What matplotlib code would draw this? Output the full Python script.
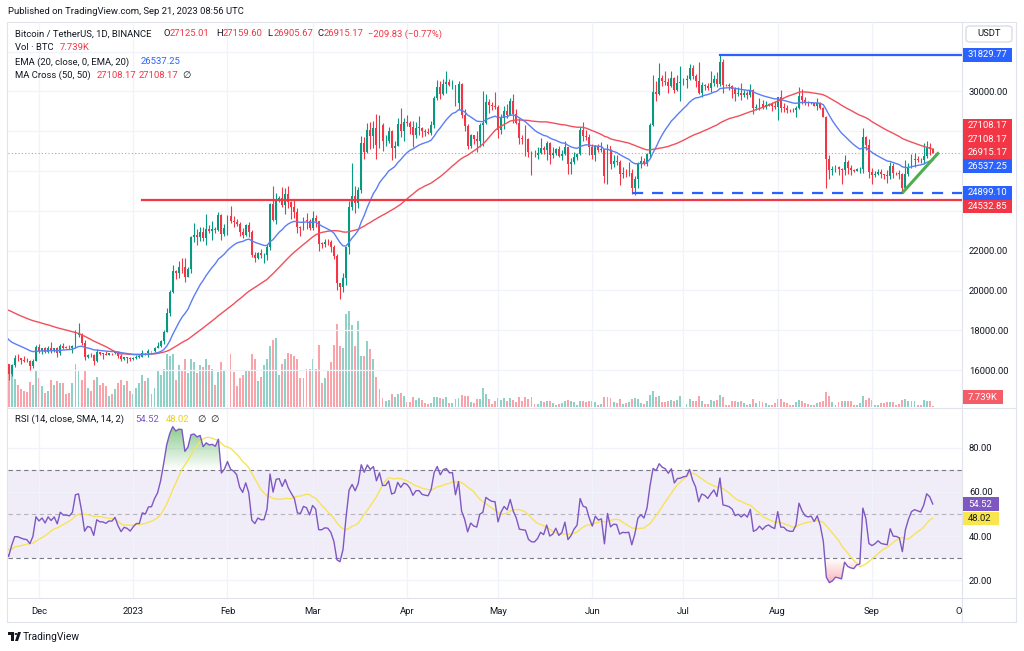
import numpy as np
import pandas as pd
import matplotlib
matplotlib.use("Agg")
import matplotlib.pyplot as plt
import matplotlib.dates as mdates
import matplotlib.transforms as mtransforms
from matplotlib.patches import Rectangle, FancyBboxPatch, Polygon, Circle
from matplotlib.path import Path
from matplotlib.colors import to_rgb

plt.rcParams['font.family'] = ['Roboto', 'DejaVu Sans']

# ---------------- data (BTC/USDT daily, Binance) ----------------
# closes before the visible window, only used to warm up the indicators
warmup_close = [19312, 19044, 19623, 20336, 20160, 19955, 19531, 19417, 19439, 19131,
                19060, 19155, 19375, 19176, 19069, 19262, 19549, 19327, 19123, 19041,
                19164, 19204, 19571, 19330, 20080, 20771, 20295, 20595, 20818, 20635,
                20495, 20485, 20159, 20209, 21148, 21300, 20905, 20591, 18547, 15922,
                17601, 17070, 16812, 16330, 16620, 16900, 16663, 16692, 16700, 16630, 16280]

nov_close = [15781, 16227, 16603, 16598, 16522, 16459, 16428, 16213, 16443, 17164]
nov_high = [16290, 16300, 16770, 16812, 16603, 16689, 16600, 16483, 16529, 17250]
nov_low = [15476, 15703, 16169, 16460, 16310, 16398, 16400, 16001, 16110, 16430]
nov_vol = [250, 219, 175, 140, 113, 100, 94, 156, 138, 230]

dec_close = [16980, 17095, 16888, 17107, 16967, 17089, 16837, 17225, 17129, 17128,
             17104, 17206, 17776, 17806, 17356, 16632, 16776, 16738, 16439, 16896,
             16825, 16821, 16778, 16836, 16832, 16919, 16706, 16547, 16633, 16607, 16542]
dec_high = [17320, 17105, 17158, 17200, 17425, 17107, 17140, 17300, 17360, 17227,
            17270, 17242, 18000, 18387, 17846, 17530, 16800, 16863, 16816, 17061,
            16920, 16868, 16959, 16869, 16865, 16939, 16972, 16785, 16664, 16644, 16644]
dec_low = [16855, 16788, 16865, 16878, 16867, 16907, 16678, 16734, 17060, 17090,
           17071, 16873, 17086, 17660, 17275, 16527, 16584, 16663, 16256, 16398,
           16740, 16559, 16750, 16774, 16735, 16786, 16594, 16465, 16508, 16333, 16470]
dec_vol = [180, 130, 90, 100, 170, 140, 160, 150, 150, 80,
           90, 150, 270, 230, 170, 230, 120, 100, 170, 190,
           140, 150, 130, 70, 80, 110, 150, 170, 140, 160, 100]

jan_close = [16617, 16672, 16674, 16851, 16831, 16951, 16955, 17092, 17196, 17446,
             17934, 18869, 19909, 20977, 20880, 21170, 21162, 20688, 21087, 22666,
             22783, 22707, 22917, 22632, 23061, 23009, 23075, 23031, 23775, 22840, 23125]
jan_high = [16630, 16760, 16785, 16990, 16878, 17042, 16970, 17176, 17398, 17490,
            18000, 19117, 19998, 21259, 21050, 21470, 21650, 21650, 21188, 22755,
            23371, 23078, 23165, 23180, 23816, 23282, 23500, 23165, 23955, 23819, 23320]
jan_low = [16500, 16550, 16605, 16657, 16753, 16677, 16908, 16911, 17094, 17143,
           17315, 17892, 18713, 19889, 20552, 20611, 20852, 20407, 20659, 20862,
           22422, 22293, 22500, 22464, 22300, 22890, 22534, 22880, 22981, 22546, 22717]
jan_vol = [80, 120, 150, 200, 160, 180, 80, 120, 230, 200,
           240, 330, 320, 330, 170, 260, 230, 300, 210, 300,
           280, 210, 260, 250, 300, 260, 240, 140, 220, 280, 230]

feb_close = [23732, 23489, 23431, 23326, 22933, 22763, 23264, 22939, 21797, 21625,
             21862, 21783, 21785, 22200, 24327, 23517, 24570, 24631, 24275, 24838,
             24451, 24189, 23947, 23199, 23158, 23555, 23492, 23141]
feb_high = [23800, 24255, 23715, 23587, 23433, 23158, 23350, 23452, 23012, 21938,
            21906, 22090, 21888, 22320, 24380, 25250, 24879, 24722, 25192, 25121,
            25250, 24475, 24600, 24143, 23225, 23689, 23880, 23600]
feb_low = [22760, 23363, 23204, 23253, 22750, 22628, 22745, 22665, 21688, 21451,
           21600, 21630, 21352, 21532, 22047, 23505, 23339, 24430, 24200, 23841,
           24150, 23574, 23623, 22862, 22722, 23059, 23106, 23020]
feb_vol = [300, 330, 220, 130, 180, 200, 230, 230, 330, 300,
           160, 190, 260, 300, 380, 420, 430, 200, 270, 300,
           340, 330, 320, 300, 180, 180, 240, 240]

mar_close = [23629, 23466, 22355, 22346, 22430, 22410, 22197, 21705, 20363, 20188,
             20633, 22163, 24198, 24746, 24375, 25055, 27423, 26965, 28038, 27767,
             28175, 27307, 28333, 27493, 27494, 27994, 27139, 27268, 28348, 28033, 28478]
mar_high = [24000, 23780, 22420, 22410, 22606, 22602, 22552, 22268, 21818, 20367,
            20850, 22200, 24500, 26386, 25250, 25200, 27756, 27725, 28390, 28473,
            28527, 28868, 28800, 28400, 27800, 28200, 28043, 27500, 28650, 29184, 28660]
mar_low = [23020, 23195, 21971, 22115, 22200, 22258, 21927, 21580, 20042, 19549,
           19900, 20275, 21813, 24044, 23900, 24123, 24890, 26578, 26888, 27125,
           27156, 26600, 27166, 27000, 27250, 27430, 26550, 26631, 27250, 27700, 27525]
mar_vol = [300, 240, 390, 150, 180, 230, 280, 390, 520, 380,
           370, 580, 600, 510, 380, 540, 320, 320, 410, 360,
           300, 190, 110, 55, 40, 45, 80, 65, 80, 85, 70]

apr_close = [28411, 28199, 27790, 28168, 28175, 27991, 27948, 27924, 28334, 29653,
             30235, 29884, 30373, 30467, 30305, 30314, 29431, 30380, 28797, 28243,
             27262, 27817, 27592, 27514, 28300, 28415, 29473, 29340, 29248, 29233]
apr_high = [28800, 28530, 28500, 28444, 28775, 28190, 28100, 28185, 28530, 29770,
            30550, 30500, 30620, 31000, 30600, 30550, 30320, 30500, 30411, 29100,
            28371, 27877, 27820, 28000, 28400, 30036, 29890, 29600, 29467, 29960]
apr_low = [28240, 27870, 27200, 27675, 27800, 27711, 27770, 27871, 27800, 28170,
           29590, 29600, 29841, 29900, 30250, 30121, 29267, 29100, 28668, 28010,
           27125, 27166, 27350, 26942, 27200, 27235, 28380, 28891, 29088, 29100]
apr_vol = [30, 30, 65, 45, 55, 45, 25, 18, 25, 60,
           60, 55, 50, 65, 25, 25, 50, 55, 75, 70,
           70, 30, 25, 50, 50, 120, 80, 50, 20, 35]

may_close = [28068, 28669, 29026, 28838, 29506, 28848, 28430, 27669, 27628, 27599,
             26969, 26792, 26784, 26917, 27162, 27033, 27405, 26821, 26890, 27112,
             26747, 26849, 27225, 26334, 26476, 26719, 26868, 28085, 27745, 27702, 27219]
may_high = [29337, 28880, 29266, 29375, 29677, 29850, 29138, 28664, 27818, 28336,
            27650, 27000, 27030, 27200, 27665, 27279, 27485, 27476, 27183, 27155,
            27280, 27050, 27495, 27200, 26633, 26932, 26900, 28200, 28447, 28045, 27834]
may_low = [27680, 27872, 28130, 28670, 28800, 28388, 28353, 27335, 27360, 26777,
           26700, 25811, 26681, 26600, 26852, 26867, 26560, 26360, 26650, 26816,
           26700, 26533, 26800, 25871, 25868, 26333, 26555, 26800, 27524, 27566, 26818]
may_vol = [55, 45, 55, 40, 55, 45, 30, 60, 35, 60,
           50, 60, 20, 20, 35, 30, 40, 40, 25, 15,
           18, 25, 35, 45, 35, 30, 15, 40, 40, 30, 35]

jun_close = [26819, 27249, 27069, 27116, 25732, 27236, 26346, 26498, 26477, 25841,
             25924, 25903, 25920, 25126, 25576, 26328, 26510, 26337, 26844, 28307,
             29994, 29890, 30688, 30528, 30462, 30267, 30693, 30078, 30445, 30477]
jun_high = [27350, 27303, 27333, 27455, 27130, 27359, 27120, 26800, 26785, 26530,
            26200, 26094, 26433, 26083, 25750, 26475, 26778, 26676, 26888, 28402,
            30800, 30500, 31432, 30800, 31045, 30660, 31000, 30700, 30840, 31283]
jun_low = [26605, 26505, 26938, 26950, 25388, 25351, 26123, 26200, 26300, 25311,
           25640, 25700, 25731, 24820, 24800, 25160, 26158, 26277, 26250, 26668,
           28263, 29525, 29809, 30250, 30300, 29900, 30221, 29900, 30040, 29500]
jun_vol = [35, 30, 15, 18, 60, 65, 55, 30, 25, 50,
           20, 25, 30, 50, 55, 50, 25, 20, 35, 75,
           100, 65, 70, 30, 30, 40, 45, 40, 45, 70]

jul_close = [30590, 30620, 31156, 30767, 30504, 29895, 30346, 30292, 30171, 30414,
             30620, 30391, 31476, 30334, 30298, 30249, 30145, 29857, 29917, 29801,
             29910, 29800, 30083, 29176, 29228, 29353, 29212, 29314, 29352, 29275, 29230]
jul_high = [30660, 30800, 31380, 31320, 30888, 31500, 30450, 30390, 30445, 31045,
            30800, 30990, 31804, 31640, 30390, 30440, 30338, 30240, 30200, 30417,
            30050, 29998, 30350, 30100, 29380, 29690, 29575, 29530, 29400, 29450, 29530]
jul_low = [30320, 30160, 30555, 30620, 30200, 29850, 29701, 30050, 30060, 29950,
           30280, 30200, 30256, 29940, 30250, 30080, 29660, 29500, 29768, 29570,
           29718, 29630, 29740, 28861, 29060, 29080, 29100, 29124, 29256, 29033, 29102]
jul_vol = [20, 20, 50, 40, 40, 70, 40, 20, 20, 45,
           40, 45, 75, 60, 15, 15, 35, 40, 30, 35,
           25, 15, 20, 50, 25, 35, 30, 25, 12, 15, 25]

aug_close = [29705, 29186, 29180, 29075, 29043, 29041, 29180, 29766, 29561, 29429,
             29397, 29415, 29283, 29408, 29170, 28701, 26622, 26049, 26096, 26189,
             26124, 26041, 26432, 26160, 26059, 26010, 26090, 26105, 27722, 27298, 25941]
aug_high = [29740, 30047, 29410, 29311, 29115, 29175, 29245, 30244, 30140, 29700,
            29540, 29475, 29460, 29675, 29475, 29220, 28783, 26820, 26261, 26295,
            26260, 26135, 26800, 26550, 26300, 26090, 26170, 26218, 28142, 27765, 27588]
aug_low = [28585, 28950, 28960, 28900, 28960, 28960, 28700, 29120, 29350, 29330,
           29290, 29350, 29250, 29060, 29100, 28700, 25166, 25600, 25800, 25970,
           25800, 25350, 25800, 25850, 25777, 25970, 25985, 25880, 25923, 27030, 25655]
aug_vol = [50, 50, 30, 25, 12, 10, 30, 45, 40, 25,
           20, 10, 12, 25, 30, 40, 95, 70, 30, 15,
           30, 40, 40, 35, 35, 10, 10, 25, 70, 45, 55]

sep_close = [25801, 25869, 25971, 25827, 25785, 25754, 26241, 25905, 25896, 25833,
             25163, 25841, 26223, 26530, 26608, 26569, 26530, 26760, 27211, 27125.01, 26915.17]
sep_high = [26140, 25977, 26099, 26100, 25855, 26025, 26444, 26419, 25945, 26033,
            25900, 26536, 26400, 26860, 26888, 26775, 26630, 27430, 27488, 27390, 27159.60]
sep_low = [25333, 25718, 25800, 25650, 25580, 25372, 25616, 25655, 25800, 25580,
           24901, 25133, 25750, 26130, 26220, 26477, 26400, 26375, 26675, 26800, 26905.67]
sep_vol = [45, 15, 15, 25, 25, 30, 30, 30, 10, 20,
           45, 50, 35, 40, 35, 15, 15, 45, 40, 35, 7.739]

# values shown in the legends / price scale of the screenshot
last_change = "\u2212209.83 (\u22120.77%)"
ema_last = 26537.25
ma_last = 27108.17
rsi_last = 54.52
rsi_ma_last = 48.02
vol_last = "7.739K"

# user drawings
level_red = 24532.85
level_red_start = "2023-01-04"
level_blue_top = 31829.77
level_blue_top_start = "2023-07-13"
level_blue_dash = 24899.10
level_blue_dash_start = "2023-06-14"
trend_dates = ["2023-09-11", "2023-09-23"]
trend_prices = [24899.10, 26935.0]

month_ticks = ["2022-12-01", "2023-01-01", "2023-02-01", "2023-03-01", "2023-04-01", "2023-05-01",
               "2023-06-01", "2023-07-01", "2023-08-01", "2023-09-01", "2023-10-01"]
month_labels = ["Dec", "2023", "Feb", "Mar", "Apr", "May", "Jun", "Jul", "Aug", "Sep", "Oct"]

# ---------------- assemble ----------------
close = np.array(nov_close + dec_close + jan_close + feb_close + mar_close + apr_close +
                 may_close + jun_close + jul_close + aug_close + sep_close, dtype=float)
high = np.array(nov_high + dec_high + jan_high + feb_high + mar_high + apr_high +
                may_high + jun_high + jul_high + aug_high + sep_high, dtype=float)
low = np.array(nov_low + dec_low + jan_low + feb_low + mar_low + apr_low +
               may_low + jun_low + jul_low + aug_low + sep_low, dtype=float)
volume = np.array(nov_vol + dec_vol + jan_vol + feb_vol + mar_vol + apr_vol +
                  may_vol + jun_vol + jul_vol + aug_vol + sep_vol, dtype=float)
opens = np.r_[warmup_close[-1], close[:-1]]

dates = pd.date_range("2022-11-21", periods=len(close), freq="D")
all_dates = pd.date_range("2022-10-01", periods=len(warmup_close) + len(close), freq="D")
x = mdates.date2num(dates)
xa = mdates.date2num(all_dates)

s = pd.Series(np.r_[warmup_close, close])
ema20 = s.ewm(span=20, adjust=False).mean().values
ma50 = s.rolling(50).mean().values
d = s.diff()
up_avg = d.clip(lower=0).ewm(alpha=1 / 14, adjust=False).mean()
dn_avg = (-d.clip(upper=0)).ewm(alpha=1 / 14, adjust=False).mean()
rsi_all = 100 - 100 / (1 + up_avg / dn_avg)
rsi = rsi_all.values
rsi_ma = rsi_all.rolling(14).mean().values

# ---------------- figure ----------------
W, H = 1024, 651
fig = plt.figure(figsize=(W / 100, H / 100), dpi=100)
fig.patch.set_facecolor("white")


def rect(x0, y0, x1, y1):
    return [x0 / W, 1 - y1 / H, (x1 - x0) / W, (y1 - y0) / H]


def ftext(px, py, s, color="#131722", size=6.8, **kw):
    return fig.text(px / W, 1 - py / H, s, color=color, fontsize=size, va="center", **kw)


GREEN = "#089981"
RED = "#F23645"
BLUE = "#2962FF"
DARK = "#131722"
GRID = "#f0f3fa"

ax = fig.add_axes(rect(8, 22, 962, 407))
ax_vol = ax.twinx()
ax_rsi = fig.add_axes(rect(8, 409, 962, 598), sharex=ax)
ax.set_zorder(2)
ax_vol.set_zorder(1)
ax.patch.set_visible(False)
ax_rsi.set_zorder(1)

d0 = mdates.date2num(pd.Timestamp("2022-12-01"))
px_per_day = 3.04
xlim = (d0 - 31 / px_per_day, d0 + (962 - 39) / px_per_day)
PRICE_LIM = (14141, 33487)
RSI_LIM = (12.0, 97.5)

for a in (ax, ax_vol, ax_rsi):
    for sp in a.spines.values():
        sp.set_visible(False)

mticks = mdates.date2num(pd.to_datetime(month_ticks))

# ---------------- price scale labels (stacked like TradingView) ----------------
gap = 13.4 * (PRICE_LIM[1] - PRICE_LIM[0]) / 385
anchor = close[-1]
scale_labels = [(level_blue_top, BLUE), (ma_last, RED), (ma_last, RED),
                (ema_last, BLUE), (level_blue_dash, BLUE), (level_red, RED)]
placed = [(anchor, RED, anchor)]
prev = anchor
for v, c in sorted([l for l in scale_labels if l[0] >= anchor]):
    prev = max(v, prev + gap)
    placed.append((prev, c, v))
prev = anchor
for v, c in sorted([l for l in scale_labels if l[0] < anchor], reverse=True):
    prev = min(v, prev - gap)
    placed.append((prev, c, v))

# grids; axis labels hidden where a price label covers them
yt = np.arange(16000, 34000, 2000)
ax.set_yticks(yt)
ax.set_xticks(mticks)
ax.grid(True, color=GRID, linewidth=0.9)
ax.yaxis.tick_right()
ax.tick_params(axis="y", length=0, pad=5, labelsize=6.8, labelcolor=DARK)
ax.tick_params(axis="x", length=0, labelbottom=False)
ax.set_yticklabels(["" if any(abs(v - p[0]) < gap * 0.9 for p in placed) else f"{v:.2f}" for v in yt])
for lbl in ax.get_yticklabels():
    lbl.set_horizontalalignment("left")
ax_vol.yaxis.set_visible(False)
ax_vol.xaxis.set_visible(False)

# volume
vcols = np.where(close >= opens, GREEN, RED)
ax_vol.bar(x, volume, width=0.62, color=vcols, alpha=0.45, linewidth=0)
ax_vol.set_ylim(0, 600 * 385 / 96)

# candles
ax.vlines(x, low, high, colors=vcols, linewidth=0.8, zorder=3)
ax.bar(x, np.maximum(np.abs(close - opens), 18), bottom=np.minimum(close, opens),
       width=0.64, color=vcols, linewidth=0, zorder=4)

# moving averages (MA Cross 50/50 -> both lines identical, drawn red)
ax.plot(xa, ma50, color="#F0505C", linewidth=1.0, zorder=5)
ax.plot(xa, ema20, color="#5B7EF5", linewidth=1.0, zorder=5)

# drawings
ax.axhline(close[-1], color=RED, linewidth=0.8, linestyle=(0, (1, 2)), alpha=0.6, zorder=2)
ax.plot([mdates.date2num(pd.Timestamp(level_red_start)), xlim[1]], [level_red] * 2,
        color=RED, linewidth=1.6, zorder=6)
ax.plot([mdates.date2num(pd.Timestamp(level_blue_top_start)), xlim[1]], [level_blue_top] * 2,
        color=BLUE, linewidth=1.6, zorder=6)
ax.plot([mdates.date2num(pd.Timestamp(level_blue_dash_start)), xlim[1]], [level_blue_dash] * 2,
        color=BLUE, linewidth=1.6, linestyle=(0, (5, 4)), zorder=6)
ax.plot(mdates.date2num(pd.to_datetime(trend_dates)), trend_prices, color="#4CAF50",
        linewidth=2.2, solid_capstyle="butt", zorder=6)

ax.set_ylim(*PRICE_LIM)

# ---------------- RSI panel ----------------
ax_rsi.set_yticks([20, 40, 60, 80])
ax_rsi.set_xticks(mticks)
ax_rsi.grid(True, color=GRID, linewidth=0.9)
ax_rsi.yaxis.tick_right()
ax_rsi.tick_params(axis="y", length=0, pad=5, labelsize=6.8, labelcolor=DARK)
ax_rsi.tick_params(axis="x", length=0, labelbottom=False)
ax_rsi.set_yticklabels([f"{v:.2f}" for v in [20, 40, 60, 80]])
for lbl in ax_rsi.get_yticklabels():
    lbl.set_horizontalalignment("left")

ax_rsi.axhspan(30, 70, color="#7E57C2", alpha=0.1, linewidth=0)
ax_rsi.axhline(70, color="#787B86", linewidth=0.8, linestyle=(0, (4, 3)))
ax_rsi.axhline(30, color="#787B86", linewidth=0.8, linestyle=(0, (4, 3)))
ax_rsi.axhline(50, color="#787B86", linewidth=0.8, linestyle=(0, (4, 3)), alpha=0.5)


def gradient_fill(a, xs, ys, level, edge, color):
    mask = ys > level if edge > level else ys < level
    coll = a.fill_between(xs, ys, level, where=mask, interpolate=True,
                          facecolor="none", edgecolor="none")
    paths = [p for p in coll.get_paths() if len(p.vertices)]
    if not paths:
        return
    clip = Path.make_compound_path(*paths)
    lo, hi = sorted([level, edge])
    img = np.zeros((256, 1, 4))
    img[..., :3] = to_rgb(color)
    img[:, 0, 3] = np.linspace(0, 1, 256) if edge > level else np.linspace(1, 0, 256)
    im = a.imshow(img, extent=[xs.min(), xs.max(), lo, hi], origin="lower",
                  aspect="auto", interpolation="bilinear", zorder=2)
    im.set_clip_path(clip, transform=a.transData)


gradient_fill(ax_rsi, xa, rsi, 70, 100, "#4CAF50")
gradient_fill(ax_rsi, xa, rsi, 30, 0, "#F23645")
ax_rsi.plot(xa, rsi_ma, color="#F7E35B", linewidth=1.0, zorder=3)
ax_rsi.plot(xa, rsi, color="#7E57C2", linewidth=1.0, zorder=4)
ax_rsi.set_ylim(*RSI_LIM)
ax.set_xlim(*xlim)

blend = mtransforms.blended_transform_factory(fig.transFigure, ax.transData)
for pos, c, v in placed:
    fig.patches.append(Rectangle((963 / W, pos - gap / 2), 49 / W, gap, transform=blend,
                                 facecolor=c, edgecolor="none", zorder=5))
    fig.text(968 / W, pos, f"{v:.2f}", transform=blend, color="white", fontsize=6.8,
             va="center", ha="left", zorder=6)

# volume label
vblend = mtransforms.blended_transform_factory(fig.transFigure, ax_vol.transData)
vgap = 13.4 * (600 * 385 / 96) / 385
vpos = max(volume[-1], vgap / 2 + 20)
fig.patches.append(Rectangle((963 / W, vpos - vgap / 2), 40 / W, vgap, transform=vblend,
                             facecolor="#F45D68", edgecolor="none", zorder=5))
fig.text(968 / W, vpos, vol_last, transform=vblend, color="white", fontsize=6.8,
         va="center", ha="left", zorder=6)

# RSI labels
rblend = mtransforms.blended_transform_factory(fig.transFigure, ax_rsi.transData)
rgap = 13.4 * (RSI_LIM[1] - RSI_LIM[0]) / 189
for v, c, tc in [(rsi_last, "#7E57C2", "white"), (rsi_ma_last, "#F9E64F", DARK)]:
    fig.patches.append(Rectangle((963 / W, v - rgap / 2), 36 / W, rgap, transform=rblend,
                                 facecolor=c, edgecolor="none", zorder=5))
    fig.text(968 / W, v, f"{v:.2f}", transform=rblend, color=tc, fontsize=6.8,
             va="center", ha="left", zorder=6)

# ---------------- time axis ----------------
tblend = mtransforms.blended_transform_factory(ax.transData, fig.transFigure)
clipbox = mtransforms.TransformedBbox(mtransforms.Bbox([[8 / W, 0], [962 / W, 1]]), fig.transFigure)
for mt, lab in zip(mticks, month_labels):
    t = fig.text(mt, 1 - 611 / H, lab, transform=tblend, color=DARK, fontsize=6.8,
                 ha="center", va="center")
    t.set_clip_box(clipbox)
    t.set_clip_on(True)

# ---------------- frame & separators ----------------
fig.add_artist(Rectangle((7 / W, 1 - 622 / H), (1016 - 7) / W, (622 - 22) / H,
                         transform=fig.transFigure, fill=False, edgecolor="#e0e3eb", linewidth=0.8))
fig.add_artist(plt.Line2D([7 / W, 1016 / W], [1 - 408 / H] * 2, transform=fig.transFigure,
                          color="#e0e3eb", linewidth=0.8))
fig.add_artist(plt.Line2D([7 / W, 1016 / W], [1 - 598 / H] * 2, transform=fig.transFigure,
                          color="#e0e3eb", linewidth=0.8))
fig.add_artist(plt.Line2D([962 / W] * 2, [1 - 22 / H, 1 - 622 / H], transform=fig.transFigure,
                          color="#e0e3eb", linewidth=0.8))

# USDT box
fig.add_artist(FancyBboxPatch((966 / W, 1 - 42 / H), 46 / W, 16 / H, transform=fig.transFigure,
                              boxstyle="round,pad=0,rounding_size=0.004", facecolor="white",
                              edgecolor="#d1d4dc", linewidth=0.8))
ftext(989, 34, "USDT", ha="center")

# ---------------- header & legends ----------------
ftext(8, 12, "Published on TradingView.com, Sep 21, 2023 08:56 UTC")

ftext(15, 34, "Bitcoin / TetherUS, 1D, BINANCE")
for px, letter, val in [(163, "O", opens[-1]), (216, "H", high[-1]), (267, "L", low[-1]), (317, "C", close[-1])]:
    ftext(px, 34, letter)
    ftext(px + 7, 34, f"{val:.2f}", color=RED)
ftext(368, 34, last_change, color=RED)

ftext(15, 48, "Vol \u00b7 BTC")
ftext(60, 48, vol_last, color=RED)

ftext(15, 62, "EMA (20, close, 0, EMA, 20)")
ftext(141, 62, f"{ema_last:.2f}", color=BLUE)

ftext(15, 75, "MA Cross (50, 50)")
ftext(97, 75, f"{ma_last:.2f}", color=RED)
ftext(139, 75, f"{ma_last:.2f}", color=RED)
ftext(182, 75, "\u2205")

ftext(15, 419, "RSI (14, close, SMA, 14, 2)")
ftext(135, 419, f"{rsi_last:.2f}", color="#7E57C2")
ftext(166, 419, f"{rsi_ma_last:.2f}", color="#E9CF1E")
ftext(197, 419, "\u2205")
ftext(210, 419, "\u2205")

# TradingView logo
fig.add_artist(Rectangle((8 / W, 1 - 635 / H), 6 / W, 3 / H, transform=fig.transFigure,
                         facecolor=DARK, edgecolor="none"))
fig.add_artist(Rectangle((11 / W, 1 - 641 / H), 3 / W, 9 / H, transform=fig.transFigure,
                         facecolor=DARK, edgecolor="none"))
fig.add_artist(Circle((16 / W, 1 - 634 / H), 1.5 / W, transform=fig.transFigure,
                      facecolor=DARK, edgecolor="none"))
fig.add_artist(Polygon([[15 / W, 1 - 641 / H], [18 / W, 1 - 641 / H], [21 / W, 1 - 632 / H],
                        [18 / W, 1 - 632 / H]], closed=True, transform=fig.transFigure,
                       facecolor=DARK, edgecolor="none"))
ftext(23, 637, "TradingView", size=7.4)

fig.savefig("out.png", dpi=100, facecolor="white")
